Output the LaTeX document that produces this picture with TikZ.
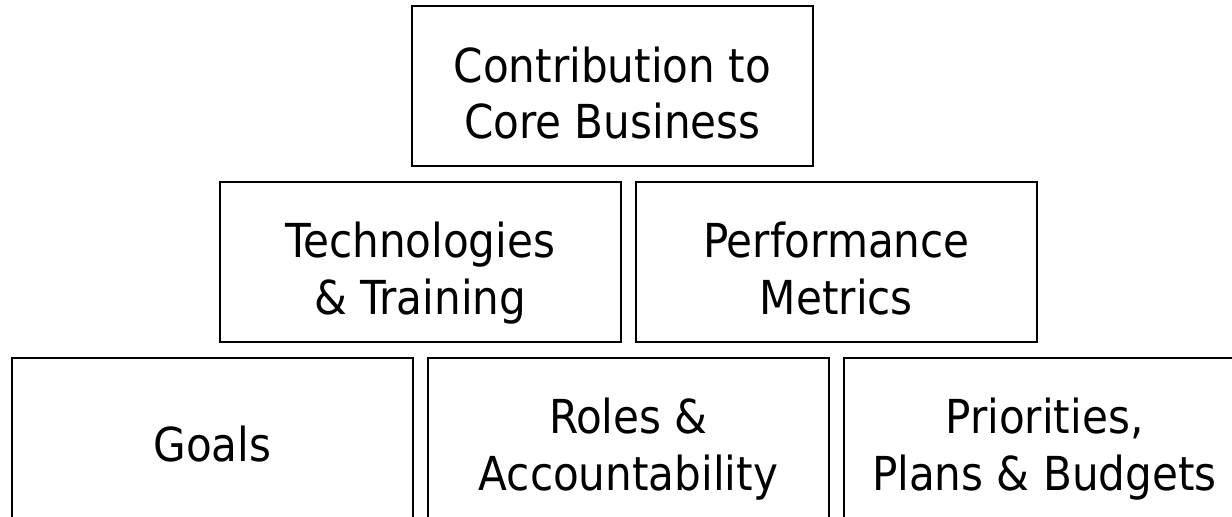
\documentclass[tikz,border=0pt]{standalone}
\usepackage{fontspec}
\setmainfont{DejaVu Sans Condensed}
\usetikzlibrary{positioning}
\newcommand\tstrut{\rule{0pt}{43pt}}
\newcommand\bstrut{\rule[-9pt]{0pt}{9pt}}
\tikzstyle{block} = [rectangle, draw, line width=1.4pt,
    minimum width=10.025cm, minimum height=4cm, inner sep=0pt, outer sep=0pt,
    align=center, font=\fontsize{33.3pt}{40pt}\selectfont]

\begin{document}
\begin{tikzpicture}[node distance = 0.375cm]
\clip (0,0) rectangle (30.8,-12.9);
    % Place nodes
\node [block] (core) at (15.31,-2.16) {\tstrut Contribution to\\Core Business\bstrut};
\node [block] (tech) at (10.51,-6.55) {\tstrut Technologies\\\& Training\bstrut};
\node [block, right=of tech] (perf) {\tstrut Performance\\Metrics\bstrut};
\node [block] (goals) at (5.31,-10.95) {\tstrut Goals\bstrut};
\node [block, right=of goals] (roles) {\tstrut Roles \&\\Accountability\bstrut};
\node [block, right=of roles] (prio) {\tstrut Priorities,\\Plans \& Budgets\bstrut};
\end{tikzpicture}
\end{document}
